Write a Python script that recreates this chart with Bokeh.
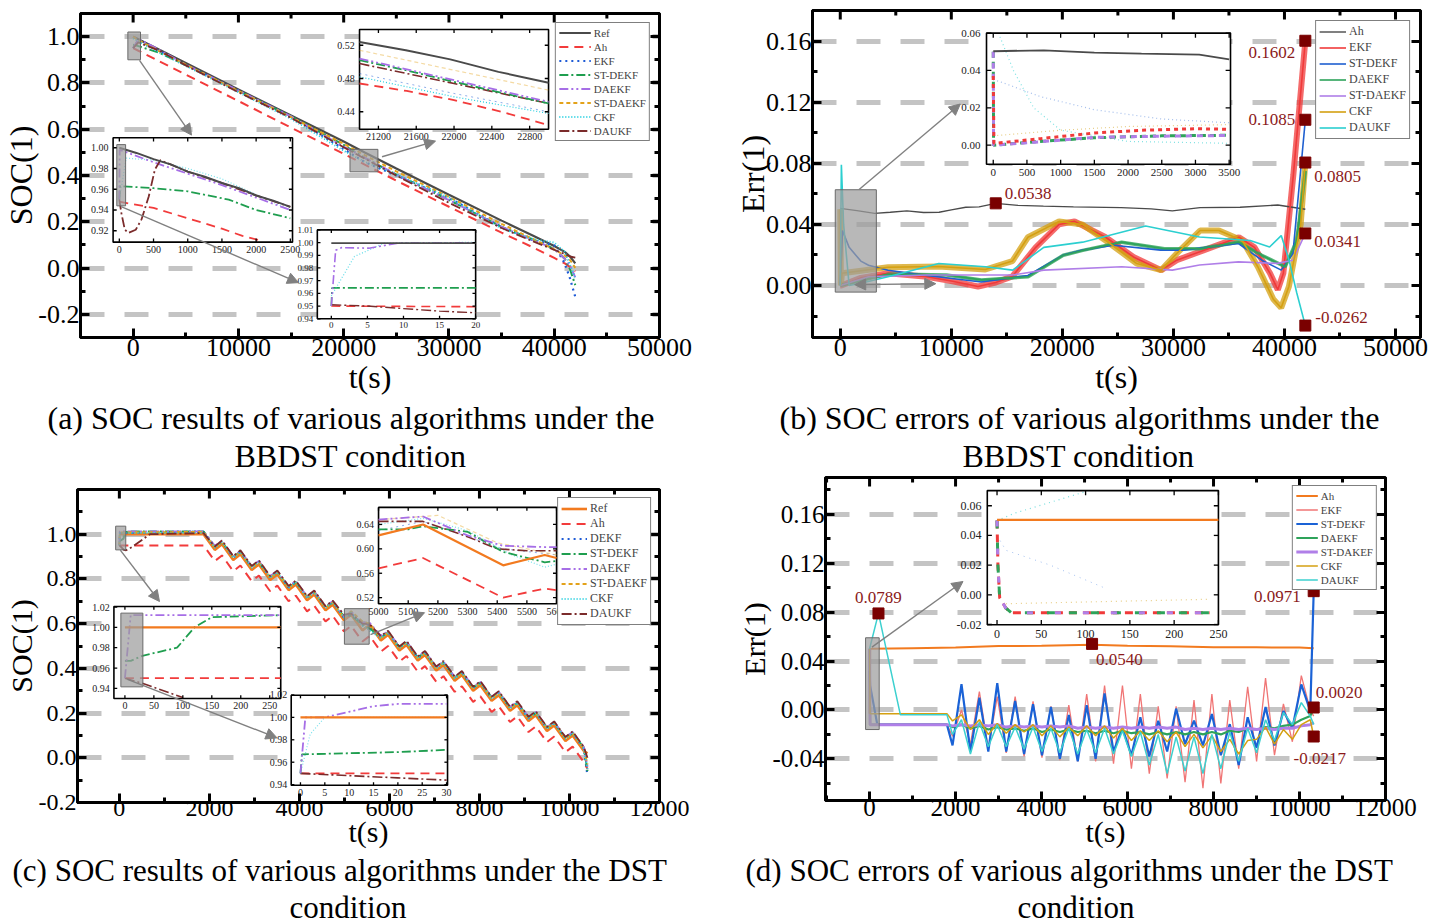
import math
from bokeh.plotting import figure
from bokeh.models import (Range1d, SingleIntervalTicker, LinearAxis, PrintfTickFormatter,
                          Arrow, NormalHead, Label, Title)
from bokeh.layouts import column, row
from bokeh.core.properties import value
from bokeh.embed import file_html
from bokeh.resources import INLINE

FONT = "Liberation Serif"

# ======================= DATA =======================
# ---- (a) SOC, BBDST ----
ta = [0, 500, 2500, 5000, 10000, 15000, 20000, 22000, 25000, 30000, 35000, 38000, 40000, 41000, 41500, 42000]
a_ref = [1.0, 0.989, 0.943, 0.886, 0.772, 0.659, 0.547, 0.499, 0.43, 0.317, 0.205, 0.14, 0.095, 0.07, 0.05, 0.02]
a_ah = [0.95, 0.939, 0.893, 0.836, 0.722, 0.607, 0.494, 0.447, 0.378, 0.265, 0.153, 0.089, 0.044, 0.02, 0.005, -0.015]
a_ekf = [0.95, 0.985, 0.936, 0.878, 0.767, 0.655, 0.514, 0.458, 0.40, 0.304, 0.177, 0.12, 0.098, 0.02, -0.045, -0.125]
a_stdekf = [0.965, 0.959, 0.930, 0.877, 0.766, 0.656, 0.532, 0.476, 0.404, 0.294, 0.178, 0.124, 0.083, 0.04, -0.005, -0.0735]
a_daekf = [0.95, 0.99, 0.942, 0.879, 0.767, 0.655, 0.525, 0.477, 0.404, 0.294, 0.178, 0.121, 0.083, 0.04, 0.01, -0.04]
a_stdaekf = [1.0, 0.985, 0.936, 0.879, 0.765, 0.652, 0.537, 0.488, 0.418, 0.307, 0.191, 0.125, 0.081, 0.054, 0.035, 0.001]
a_ckf = [0.992, 0.979, 0.931, 0.874, 0.76, 0.645, 0.507, 0.459, 0.405, 0.305, 0.171, 0.125, 0.11, 0.07, 0.015, -0.045]
a_daukf = [0.95, 0.975, 0.939, 0.876, 0.76, 0.649, 0.522, 0.473, 0.40, 0.282, 0.173, 0.115, 0.079, 0.06, 0.05, 0.045]
a_names = ["Ref", "Ah", "EKF", "ST-DEKF", "DAEKF", "ST-DAEKF", "CKF", "DAUKF"]

# inset a1 (21000-23000 s)
a1_ref_t = [21000, 21490, 21960, 22470, 23000]; a1_ref = [0.524, 0.514, 0.503, 0.488, 0.475]
a1_stdaekf_t = [21000, 23000]; a1_stdaekf = [0.514, 0.466]
a1_daekf_t = [21000, 22000, 23000]; a1_daekf = [0.504, 0.478, 0.452]
a1_stdekf_t = [21000, 21490, 22000, 23000]; a1_stdekf = [0.502, 0.49, 0.476, 0.45]
a1_daukf_t = [21000, 22000, 23000]; a1_daukf = [0.498, 0.474, 0.45]
a1_ckf_t = [21000, 22000, 23000]; a1_ckf = [0.482, 0.458, 0.438]
a1_ekf_t = [21000, 22000, 23000]; a1_ekf = [0.486, 0.462, 0.44]
a1_ah_t = [21000, 21500, 22000, 22500, 23000]; a1_ah = [0.474, 0.465, 0.454, 0.44, 0.424]
a1_xticks = [21200, 21600, 22000, 22400, 22800]; a1_xlab = ["21200", "21600", "22000", "22400", "22800"]
a1_yticks = [0.44, 0.48, 0.52]; a1_ylab = ["0.44", "0.48", "0.52"]
# inset a2 (0-2500 s)
a2_ref_t = [0, 250, 500, 750, 1000, 1250, 1500, 1750, 2000, 2250, 2500]
a2_ref = [1.0, 0.995, 0.989, 0.984, 0.977, 0.972, 0.966, 0.961, 0.954, 0.949, 0.943]
a2_daekf_t = [0, 5, 500, 1000, 1500, 2000, 2500]; a2_daekf = [0.95, 0.998, 0.986, 0.975, 0.964, 0.952, 0.94]
a2_daukf_t = [0, 30, 80, 135, 240, 325, 430, 520, 600, 1000, 1500, 2000, 2500]
a2_daukf = [0.95, 0.937, 0.921, 0.918, 0.921, 0.931, 0.953, 0.979, 0.988, 0.977, 0.966, 0.954, 0.943]
a2_stdekf_t = [0, 10, 500, 1000, 1600, 2000, 2500]; a2_stdekf = [0.95, 0.963, 0.961, 0.958, 0.95, 0.94, 0.932]
a2_ckf_t = [0, 100, 500, 1000, 1500, 2000, 2500]; a2_ckf = [0.95, 0.99, 0.988, 0.98, 0.97, 0.955, 0.94]
a2_ah_t = [0, 500, 1000, 1500, 1800, 2100]; a2_ah = [0.948, 0.942, 0.932, 0.922, 0.915, 0.91]
a2_xticks = [0, 500, 1000, 1500, 2000, 2500]; a2_xlab = ["0", "500", "1000", "1500", "2000", "2500"]
a2_yticks = [0.92, 0.94, 0.96, 0.98, 1.00]; a2_ylab = ["0.92", "0.94", "0.96", "0.98", "1.00"]
# inset a3 (0-20 s)
a3_ref_t = [0, 20]; a3_ref = [0.9996, 0.9995]
a3_daekf_t = [0, 0.6, 1.4, 5.2, 9.3, 20]; a3_daekf = [0.95, 0.994, 0.996, 0.9956, 0.9996, 0.9998]
a3_ckf_t = [0, 3.2, 7.3, 20]; a3_ckf = [0.958, 0.989, 0.9996, 1.0002]
a3_stdekf_t = [0, 0.1, 20]; a3_stdekf = [0.95, 0.9643, 0.9643]
a3_ah_t = [0, 20]; a3_ah = [0.95, 0.9495]
a3_daukf_t = [0, 5, 10, 15, 20]; a3_daukf = [0.951, 0.95, 0.948, 0.946, 0.9447]
a3_xticks = [0, 5, 10, 15, 20]; a3_xlab = ["0", "5", "10", "15", "20"]
a3_yticks = [0.94, 0.95, 0.96, 0.97, 0.98, 0.99, 1.00, 1.01]
a3_ylab = ["0.94", "0.95", "0.96", "0.97", "0.98", "0.99", "1.00", "1.01"]

# ---- (b) SOC errors, BBDST ----
b_t_ah = [0, 1500, 3100, 4500, 6000, 7500, 8900, 10000, 11300, 12500, 14000, 16000, 18300, 21000, 25300, 28000, 29900, 32400, 36000, 39400, 41880]
b_ah = [0.0505, 0.049, 0.0472, 0.048, 0.0489, 0.0478, 0.048, 0.0495, 0.0512, 0.0515, 0.0538, 0.0525, 0.052, 0.0515, 0.051, 0.0502, 0.0489, 0.051, 0.0512, 0.0527, 0.0499]
b_t_ekf = [0, 100, 1850, 4300, 7800, 10000, 12400, 14000, 15500, 17600, 19700, 21100, 23900, 26400, 28900, 30300, 32700, 35900, 37300, 38700, 39400, 39900, 40800, 41880]
b_ekf = [0.0, 0.0, 0.005, 0.008, 0.0058, 0.003, -0.0006, 0.002, 0.006, 0.025, 0.040, 0.042, 0.0316, 0.0187, 0.0101, 0.0166, 0.023, 0.0316, 0.025, 0.008, -0.0027, 0.008, 0.0724, 0.1602]
b_t_stdekf = [0, 200, 800, 1850, 2550, 4300, 7800, 12700, 16900, 20100, 21800, 24600, 28850, 30950, 35860, 37960, 39710, 40760, 41880]
b_stdekf = [0.0, 0.036, 0.025, 0.016, 0.0133, 0.010, 0.0066, 0.0023, 0.0066, 0.020, 0.0232, 0.0264, 0.0232, 0.0232, 0.0275, 0.0166, 0.0101, 0.0209, 0.1085]
b_t_daekf = [0, 4300, 9570, 12720, 16920, 20080, 21830, 25340, 29200, 32350, 35860, 37960, 40060, 41110, 41880]
b_daekf = [0.0, 0.0075, 0.0069, 0.0037, 0.0058, 0.0198, 0.023, 0.0284, 0.0241, 0.0241, 0.0284, 0.0198, 0.0123, 0.0295, 0.075]
b_t_stdaekf = [0, 2555, 7810, 15520, 18330, 25340, 29900, 32350, 35860, 39360, 40760, 41880]
b_stdaekf = [0.0, 0.0058, 0.0069, 0.0069, 0.0101, 0.0123, 0.0101, 0.0134, 0.0155, 0.0145, 0.0166, 0.0341]
b_t_ckf = [0, 60, 150, 4300, 8850, 13070, 15500, 16900, 19700, 21800, 23900, 26700, 28900, 30300, 32400, 34100, 36200, 37600, 39000, 39700, 40400, 41460, 41880]
b_ckf = [0.05, 0.0, 0.008, 0.012, 0.0125, 0.0105, 0.016, 0.0316, 0.042, 0.040, 0.0295, 0.0144, 0.0101, 0.021, 0.036, 0.036, 0.0295, 0.0123, -0.009, -0.0146, -0.0006, 0.040, 0.0805]
b_t_daukf = [0, 100, 300, 800, 1850, 4300, 8870, 13070, 15520, 18330, 21830, 27500, 32350, 36910, 38660, 39710, 40410, 41110, 41880]
b_daukf = [0.0, 0.079, 0.04, 0.0, 0.0015, 0.0058, 0.0144, 0.0123, 0.0101, 0.025, 0.0284, 0.039, 0.0318, 0.0295, 0.0252, 0.0327, 0.0166, -0.0049, -0.0262]
b_names = ["Ah", "EKF", "ST-DEKF", "DAEKF", "ST-DAEKF", "CKF", "DAUKF"]
b_mark_t = [14000, 41880, 41880, 41880, 41880, 41880]
b_mark_v = [0.0538, 0.1602, 0.1085, 0.0805, 0.0341, -0.0262]
b_mark_txt = ["0.0538", "0.1602", "0.1085", "0.0805", "0.0341", "-0.0262"]
# inset b (0-3500 s)
b1_ah_t = [0, 750, 1500, 2200, 3056, 3500]; b1_ah = [0.0503, 0.0508, 0.0495, 0.049, 0.0485, 0.0459]
b1_ekf_t = [0, 10, 30, 700, 1500, 2200, 3000, 3500]; b1_ekf = [0.037, 0.001, 0.001, 0.0035, 0.0065, 0.008, 0.0088, 0.0085]
b1_daekf_t = [0, 5, 700, 1500, 2500, 3500]; b1_daekf = [0.05, 0.0, 0.002, 0.004, 0.005, 0.0053]
b1_stdaekf_t = [0, 5, 700, 1500, 2500, 3500]; b1_stdaekf = [0.05, 0.0, 0.0018, 0.0042, 0.0048, 0.0052]
b1_stdekf_t = [0, 100, 700, 1500, 2500, 3500]; b1_stdekf = [0.035, 0.034, 0.026, 0.019, 0.014, 0.012]
b1_daukf_t = [100, 300, 600, 1000, 2000, 3500]; b1_daukf = [0.058, 0.04, 0.02, 0.008, 0.002, 0.001]
b1_ckf_t = [0, 1000, 2000, 3500]; b1_ckf = [0.005, 0.008, 0.01, 0.011]
b1_xticks = [0, 500, 1000, 1500, 2000, 2500, 3000, 3500]
b1_xlab = ["0", "500", "1000", "1500", "2000", "2500", "3000", "3500"]
b1_yticks = [0.0, 0.02, 0.04, 0.06]; b1_ylab = ["0.00", "0.02", "0.04", "0.06"]

# ---- (c) SOC, DST ----
tc_cyc = [1870, 2120, 2280, 2530, 2690, 2940, 3100, 3350, 3510, 3760, 3920, 4170, 4330, 4580, 4740, 4990,
          5150, 5400, 5560, 5810, 5970, 6220, 6380, 6630, 6790, 7040, 7200, 7450, 7610, 7860, 8020, 8270,
          8430, 8680, 8840, 9090, 9250, 9500, 9660, 9910, 10070, 10320, 10400]
c_ref_t0 = [0]; c_ref_v0 = [1.0]
c_ref = [1.0, 0.93, 0.955, 0.885, 0.91, 0.84, 0.865, 0.795, 0.82, 0.75, 0.775, 0.705, 0.73, 0.66, 0.685, 0.615,
         0.64, 0.57, 0.595, 0.525, 0.55, 0.48, 0.505, 0.435, 0.46, 0.39, 0.415, 0.345, 0.37, 0.30, 0.325, 0.255,
         0.28, 0.21, 0.235, 0.165, 0.19, 0.12, 0.145, 0.075, 0.10, 0.03, 0.02]
c_ah_t0 = [0]; c_ah_v0 = [0.95]
c_ah = [0.95, 0.88, 0.905, 0.835, 0.86, 0.79, 0.815, 0.745, 0.77, 0.70, 0.725, 0.655, 0.68, 0.61, 0.635, 0.565,
        0.59, 0.52, 0.545, 0.475, 0.50, 0.43, 0.455, 0.385, 0.41, 0.34, 0.365, 0.295, 0.32, 0.25, 0.275, 0.205,
        0.23, 0.16, 0.185, 0.115, 0.14, 0.07, 0.095, 0.025, 0.05, -0.02, -0.05]
c_dekf_t0 = [0, 10]; c_dekf_v0 = [0.95, 1.005]
c_dekf = [1.012, 0.942, 0.967, 0.897, 0.922, 0.852, 0.877, 0.807, 0.832, 0.762, 0.787, 0.717, 0.742, 0.672, 0.697, 0.627,
          0.645, 0.60, 0.595, 0.537, 0.562, 0.492, 0.517, 0.447, 0.472, 0.402, 0.427, 0.357, 0.382, 0.312, 0.337, 0.267,
          0.292, 0.222, 0.247, 0.177, 0.202, 0.132, 0.157, 0.087, 0.112, 0.042, -0.08]
c_stdekf_t0 = [0, 30, 90, 120, 150, 250]; c_stdekf_v0 = [0.967, 0.972, 0.98, 1.0, 1.01, 1.012]
c_stdekf = [1.012, 0.945, 0.965, 0.900, 0.92, 0.855, 0.875, 0.81, 0.83, 0.765, 0.785, 0.72, 0.74, 0.675, 0.695, 0.632,
            0.637, 0.595, 0.578, 0.54, 0.56, 0.495, 0.515, 0.45, 0.47, 0.405, 0.425, 0.36, 0.38, 0.315, 0.335, 0.27,
            0.29, 0.225, 0.245, 0.18, 0.2, 0.135, 0.155, 0.09, 0.11, 0.045, -0.06]
c_daekf_t0 = [0, 10]; c_daekf_v0 = [0.95, 1.012]
c_daekf = [1.012, 0.948, 0.97, 0.90, 0.925, 0.857, 0.88, 0.812, 0.835, 0.767, 0.79, 0.722, 0.745, 0.677, 0.70, 0.632,
           0.653, 0.605, 0.603, 0.545, 0.565, 0.497, 0.52, 0.452, 0.475, 0.407, 0.43, 0.362, 0.385, 0.317, 0.34, 0.272,
           0.295, 0.227, 0.25, 0.182, 0.205, 0.137, 0.16, 0.092, 0.115, 0.047, -0.04]
c_stdaekf_t0 = [0, 10]; c_stdaekf_v0 = [0.95, 1.008]
c_stdaekf = [1.01, 0.94, 0.965, 0.895, 0.92, 0.85, 0.875, 0.805, 0.83, 0.76, 0.785, 0.715, 0.74, 0.67, 0.695, 0.625,
             0.655, 0.61, 0.60, 0.535, 0.56, 0.49, 0.515, 0.445, 0.47, 0.40, 0.425, 0.355, 0.38, 0.31, 0.335, 0.265,
             0.29, 0.22, 0.245, 0.175, 0.20, 0.13, 0.155, 0.085, 0.11, 0.04, -0.03]
c_ckf_t0 = [0, 10]; c_ckf_v0 = [0.95, 1.005]
c_ckf = [1.005, 0.94, 0.965, 0.895, 0.92, 0.85, 0.875, 0.805, 0.83, 0.76, 0.785, 0.715, 0.74, 0.67, 0.695, 0.627,
         0.65, 0.59, 0.57, 0.535, 0.56, 0.49, 0.515, 0.445, 0.47, 0.40, 0.425, 0.355, 0.38, 0.31, 0.335, 0.265,
         0.29, 0.22, 0.245, 0.175, 0.20, 0.13, 0.155, 0.085, 0.11, 0.04, -0.05]
c_daukf_t0 = [0, 30, 100, 150, 300, 680]; c_daukf_v0 = [0.95, 0.945, 0.93, 0.928, 0.945, 1.0]
c_daukf = [1.005, 0.945, 0.972, 0.902, 0.928, 0.858, 0.883, 0.813, 0.838, 0.768, 0.793, 0.723, 0.748, 0.678, 0.703, 0.64,
           0.645, 0.60, 0.597, 0.545, 0.568, 0.498, 0.523, 0.453, 0.478, 0.408, 0.433, 0.363, 0.388, 0.318, 0.343, 0.273,
           0.298, 0.228, 0.253, 0.183, 0.208, 0.138, 0.163, 0.093, 0.118, 0.048, 0.0]
c_names = ["Ref", "Ah", "DEKF", "ST-DEKF", "DAEKF", "ST-DAEKF", "CKF", "DAUKF"]
# inset c1 (5000-5600 s)
c1_ref_t = [5000, 5150, 5420, 5560, 5600]; c1_ref = [0.622, 0.64, 0.573, 0.59, 0.585]
c1_ah_t = [5000, 5150, 5420, 5560, 5600]; c1_ah = [0.568, 0.585, 0.52, 0.535, 0.532]
c1_dekf_t = [5000, 5150, 5420, 5600]; c1_dekf = [0.63, 0.645, 0.6, 0.59]
c1_stdekf_t = [5000, 5100, 5150, 5300, 5420, 5560, 5600]; c1_stdekf = [0.632, 0.632, 0.637, 0.628, 0.595, 0.578, 0.58]
c1_daekf_t = [5000, 5150, 5300, 5420, 5560, 5600]; c1_daekf = [0.648, 0.653, 0.622, 0.605, 0.603, 0.603]
c1_stdaekf_t = [5000, 5200, 5400, 5600]; c1_stdaekf = [0.648, 0.655, 0.61, 0.59]
c1_ckf_t = [5000, 5150, 5300, 5450, 5560, 5600]; c1_ckf = [0.64, 0.65, 0.63, 0.59, 0.57, 0.575]
c1_daukf_t = [5000, 5150, 5300, 5400, 5500, 5600]; c1_daukf = [0.645, 0.645, 0.62, 0.6, 0.597, 0.597]
c1_xticks = [5000, 5100, 5200, 5300, 5400, 5500, 5600]
c1_xlab = ["5000", "5100", "5200", "5300", "5400", "5500", "5600"]
c1_yticks = [0.52, 0.56, 0.60, 0.64]; c1_ylab = ["0.52", "0.56", "0.60", "0.64"]
# inset c2 (0-250 s)
c2_ref_t = [0, 269]; c2_ref = [1.0, 1.0]
c2_daekf_t = [0, 10, 269]; c2_daekf = [0.95, 1.012, 1.012]
c2_stdekf_t = [0, 10, 30, 90, 120, 150, 269]; c2_stdekf = [0.967, 0.967, 0.972, 0.98, 1.0, 1.01, 1.012]
c2_ah_t = [0, 269]; c2_ah = [0.95, 0.95]
c2_daukf_t = [0, 30, 100]; c2_daukf = [0.95, 0.945, 0.931]
c2_xticks = [0, 50, 100, 150, 200, 250]; c2_xlab = ["0", "50", "100", "150", "200", "250"]
c2_yticks = [0.94, 0.96, 0.98, 1.00, 1.02]; c2_ylab = ["0.94", "0.96", "0.98", "1.00", "1.02"]
# inset c3 (0-30 s)
c3_ref_t = [0, 30]; c3_ref = [1.0, 1.0]
c3_daekf_t = [0, 1, 5, 10, 15, 20, 30]; c3_daekf = [0.95, 1.0, 1.0, 1.005, 1.01, 1.012, 1.012]
c3_stdekf_t = [0, 0.3, 10, 20, 30]; c3_stdekf = [0.95, 0.967, 0.968, 0.969, 0.971]
c3_ah_t = [0, 30]; c3_ah = [0.95, 0.95]
c3_daukf_t = [0, 10, 20, 30]; c3_daukf = [0.95, 0.948, 0.946, 0.944]
c3_ckf_t = [0, 2, 5, 30]; c3_ckf = [0.95, 0.985, 1.0, 1.0]
c3_xticks = [0, 5, 10, 15, 20, 25, 30]; c3_xlab = ["0", "5", "10", "15", "20", "25", "30"]
c3_yticks = [0.94, 0.96, 0.98, 1.00, 1.02]; c3_ylab = ["0.94", "0.96", "0.98", "1.00", "1.02"]

# ---- (d) SOC errors, DST ----
td_osc = [1930, 2138, 2346, 2554, 2762, 2970, 3178, 3386, 3594, 3802, 4010, 4218, 4426, 4634, 4842, 5050,
          5258, 5466, 5674, 5882, 6090, 6298, 6506, 6714, 6922, 7130, 7338, 7546, 7754, 7962, 8170, 8378,
          8586, 8794, 9002, 9210, 9418, 9626, 9834, 10042]
td_start = [0, 12, 180, 1800]
td_end = [10250, 10330]
d_t_ah = [0, 15, 1000, 2000, 3000, 4000, 5175, 6000, 7000, 8000, 9000, 10000, 10330]
d_ah = [-0.003, 0.050, 0.0505, 0.051, 0.0522, 0.0525, 0.0534, 0.0525, 0.052, 0.0512, 0.0512, 0.051, 0.0505]
d_ekf_s = [0.05, -0.012, -0.012, -0.012]
d_ekf = [-0.0215, 0.000, -0.028, 0.015, -0.032, 0.011, -0.035, 0.011, -0.038, 0.007, -0.039, 0.003, -0.041, 0.004,
         -0.042, 0.013, -0.042, 0.020, -0.044, 0.020, -0.048, 0.013, -0.052, 0.003, -0.056, 0.003, -0.059, 0.008,
         -0.064, 0.013, -0.060, 0.008, -0.048, 0.019, -0.042, 0.026, -0.037, 0.005, -0.026, 0.028]
d_ekf_e = [0.0, -0.005]
d_stdekf_s = [0.032, 0.02, -0.012, -0.012]
d_stdekf = [-0.029, 0.021, -0.034, 0.010, -0.034, 0.022, -0.034, 0.0074, -0.036, 0.0047, -0.037, 0.0025, -0.040, -0.004,
            -0.042, 0.0039, -0.040, 0.0135, -0.034, -0.0147, -0.037, -0.006, -0.038, -0.0088, -0.034, 0.0011, -0.028,
            -0.0088, -0.029, -0.0033, -0.037, -0.0116, -0.045, -0.006, -0.031, 0.0025, -0.029, -0.0008, -0.015, 0.0209]
d_stdekf_e = [-0.001, 0.0971]
d_daekf_s = [0.05, -0.012, -0.012, -0.012]
d_daekf = [-0.014, -0.012, -0.015, -0.013, -0.016, -0.014, -0.016, -0.015, -0.017, -0.015, -0.018, -0.016, -0.018,
           -0.016, -0.018, -0.017, -0.019, -0.017, -0.019, -0.017, -0.019, -0.018, -0.020, -0.018, -0.020, -0.018,
           -0.020, -0.018, -0.020, -0.018, -0.020, -0.017, -0.018, -0.015, -0.016, -0.014, -0.015, -0.013, -0.012, -0.008]
d_daekf_e = [-0.005, 0.002]
d_stdakef_s = [0.05, -0.012, -0.012, -0.012]
d_stdakef = [-0.013, -0.012, -0.013, -0.012, -0.013, -0.012, -0.014, -0.013, -0.014, -0.013, -0.014, -0.013, -0.014,
             -0.013, -0.015, -0.014, -0.015, -0.014, -0.015, -0.014, -0.015, -0.014, -0.015, -0.014, -0.015, -0.014,
             -0.016, -0.015, -0.016, -0.015, -0.016, -0.015, -0.016, -0.015, -0.016, -0.015, -0.016, -0.015, -0.015, -0.013]
d_stdakef_e = [-0.012, -0.010]
d_ckf_s = [0.05, -0.003, -0.003, -0.003]
d_ckf = [-0.009, -0.004, -0.016, -0.008, -0.020, -0.011, -0.019, -0.012, -0.018, -0.012, -0.021, -0.013, -0.022, -0.014,
         -0.021, -0.013, -0.021, -0.013, -0.023, -0.015, -0.025, -0.017, -0.025, -0.017, -0.026, -0.018, -0.030, -0.020,
         -0.031, -0.021, -0.034, -0.024, -0.036, -0.025, -0.024, -0.014, -0.028, -0.016, -0.024, -0.012]
d_ckf_e = [-0.008, -0.0217]
d_daukf_start_t = [0, 207, 717, 1800]
d_daukf_s = [0.05, 0.0789, -0.004, -0.004]
d_daukf = [-0.020, -0.008, -0.036, -0.010, -0.030, -0.012, -0.030, -0.014, -0.032, -0.014, -0.034, -0.015, -0.035,
           -0.015, -0.036, -0.016, -0.035, -0.015, -0.036, -0.017, -0.038, -0.018, -0.045, -0.020, -0.052, -0.022,
           -0.050, -0.022, -0.052, -0.020, -0.048, -0.018, -0.042, -0.015, -0.035, -0.008, -0.025, -0.002, -0.012, 0.006]
d_daukf_e = [-0.005, -0.012]
d_names = ["Ah", "EKF", "ST-DEKF", "DAEKF", "ST-DAKEF", "CKF", "DAUKF"]
d_mark_t = [207, 5175, 10330, 10330, 10330]
d_mark_v = [0.0789, 0.0540, 0.0971, 0.0020, -0.0217]
d_mark_txt = ["0.0789", "0.0540", "0.0971", "0.0020", "-0.0217"]
# inset d (0-250 s)
d1_ah_t = [0, 250]; d1_ah = [0.0505, 0.0505]
d1_drop_t = [0, 1, 3, 10, 16, 240]; d1_drop = [0.05, 0.02, -0.002, -0.009, -0.012, -0.012]
d1_daukf_t = [0, 20, 100]; d1_daukf = [0.05, 0.055, 0.0695]
d1_stdekf_t = [0, 10, 60, 120]; d1_stdekf = [0.04, 0.03, 0.02, 0.005]
d1_ckf_t = [10, 240]; d1_ckf = [-0.006, -0.003]
d1_xticks = [0, 50, 100, 150, 200, 250]; d1_xlab = ["0", "50", "100", "150", "200", "250"]
d1_yticks = [-0.02, 0.0, 0.02, 0.04, 0.06]; d1_ylab = ["-0.02", "0.00", "0.02", "0.04", "0.06"]

captions = [("(a) SOC results of various algorithms under the", "BBDST condition"),
            ("(b) SOC errors of various algorithms under the", "BBDST condition"),
            ("(c) SOC results of various algorithms under the DST", "condition"),
            ("(d) SOC errors of various algorithms under the DST", "condition")]

# ======================= STYLES / LAYOUT =======================
GREY_BOX = dict(fill_color="#9c9c9c", fill_alpha=0.72, line_color="#6a6a6a", line_width=1)
ARROW_COL = "#808080"


def L(target, x, y, **kw):
    n = min(len(x), len(y))
    return target.line(list(x[:n]), list(y[:n]), **kw)


def style_axis(ax, fs_tick, fs_label, labels=True, lab_sd=1, ax_sd=0):
    ax.axis_line_color = "black"
    ax.axis_line_width = 3
    ax.major_tick_line_color = "black"
    ax.major_tick_line_width = 3
    ax.minor_tick_line_color = "black"
    ax.minor_tick_line_width = 3
    ax.major_tick_in = 9
    ax.major_tick_out = 0
    ax.minor_tick_in = 5
    ax.minor_tick_out = 0
    ax.major_label_text_font = FONT
    ax.major_label_text_font_size = fs_tick
    ax.major_label_text_color = "black"
    ax.major_label_standoff = lab_sd
    ax.axis_label_text_font = FONT
    ax.axis_label_text_font_size = fs_label
    ax.axis_label_text_font_style = "normal"
    ax.axis_label_text_color = "black"
    ax.axis_label_standoff = ax_sd
    if not labels:
        ax.major_label_text_font_size = "0px"
        ax.major_label_text_alpha = 0
        ax.major_label_standoff = 0


def top_ticks(p, xr, yr, xint, frame_h):
    # inward ticks along the top edge of the frame (major + one minor between)
    half = xint / 2.0
    span = yr[1] - yr[0]
    k = int(math.ceil(xr[0] / half))
    xs, y1 = [], []
    while k * half <= xr[1]:
        xs.append(k * half)
        y1.append(yr[1] - (9 if k % 2 == 0 else 5) * span / frame_h)
        k += 1
    p.segment(x0=xs, y0=[yr[1]] * len(xs), x1=xs, y1=y1, line_color="black", line_width=3)


def make_panel(w, h, xr, yr, borders, xint, yint, yfmt, ylabel, fs_tick, fs_label, cap, cap_off, cap_fs,
               frame_h, x_sd=(1, 0), y_sd=(1, -4)):
    p = figure(width=w, height=h, x_range=Range1d(*xr), y_range=Range1d(*yr),
               output_backend="svg", toolbar_location=None, title=None,
               min_border_left=borders[0], min_border_right=borders[1],
               min_border_top=borders[2], min_border_bottom=borders[3])
    xt = SingleIntervalTicker(interval=xint, num_minor_ticks=2)
    yt = SingleIntervalTicker(interval=yint, num_minor_ticks=2)
    p.xaxis[0].ticker = xt
    p.yaxis[0].ticker = yt
    p.xaxis[0].formatter = PrintfTickFormatter(format="%d")
    p.yaxis[0].formatter = PrintfTickFormatter(format=yfmt)
    p.xaxis[0].axis_label = "t(s)"
    p.yaxis[0].axis_label = ylabel
    style_axis(p.xaxis[0], fs_tick, fs_label, lab_sd=x_sd[0], ax_sd=x_sd[1])
    style_axis(p.yaxis[0], fs_tick, fs_label, lab_sd=y_sd[0], ax_sd=y_sd[1])
    right = LinearAxis(ticker=yt)
    style_axis(right, fs_tick, fs_label, labels=False)
    p.add_layout(right, "right")
    p.xgrid.visible = False
    p.ygrid.ticker = yt
    p.ygrid.grid_line_color = "#c4c4c4"
    p.ygrid.grid_line_width = 5
    p.ygrid.grid_line_dash = "24 20"
    p.outline_line_color = "black"
    p.outline_line_width = 3
    p.background_fill_color = "white"
    p.border_fill_color = "white"
    top_ticks(p, xr, yr, xint, frame_h)
    for txt, off in zip(cap, cap_off):
        t = Title(text=txt, align="left", offset=off, text_font=FONT, text_font_size=cap_fs,
                  text_font_style="normal", text_color="black", standoff=0)
        p.add_layout(t, "below")
    return p


def style_legend(p, fs, gw, lh, spacing, margin):
    lg = p.legend[0]
    lg.location = "top_right"
    lg.label_text_font = FONT
    lg.label_text_font_size = fs
    lg.glyph_width = gw
    lg.glyph_height = lh
    lg.label_height = lh
    lg.spacing = spacing
    lg.padding = 3
    lg.margin = margin
    lg.label_standoff = 3
    lg.border_line_color = "black"
    lg.border_line_width = 1.5
    lg.background_fill_color = "white"
    lg.background_fill_alpha = 1.0


def inset(p, xr, yr, xt, yt, xticks, xlab, yticks, ylab, fs, lines, box=None):
    p.quad(left=[xt[0]], right=[xt[1]], bottom=[yt[0]], top=[yt[1]],
           fill_color="white", line_color="black", line_width=1.6)
    s = p.subplot(x_source=Range1d(*xr), y_source=Range1d(*yr),
                  x_target=Range1d(*xt), y_target=Range1d(*yt))
    for x, y, kw in lines:
        L(s, x, y, **kw)
    if box is not None:
        s.quad(left=[box[0]], right=[box[1]], bottom=[box[2]], top=[box[3]], **GREY_BOX)
    dx = xr[1] - xr[0]
    dy = yr[1] - yr[0]
    nx, ny = len(xticks), len(yticks)
    tk = dict(line_color="black", line_width=1.3)
    s.segment(x0=xticks, y0=[yr[0]] * nx, x1=xticks, y1=[yr[0] + 0.035 * dy] * nx, **tk)
    s.segment(x0=xticks, y0=[yr[1]] * nx, x1=xticks, y1=[yr[1] - 0.035 * dy] * nx, **tk)
    s.segment(x0=[xr[0]] * ny, y0=yticks, x1=[xr[0] + 0.02 * dx] * ny, y1=yticks, **tk)
    s.segment(x0=[xr[1]] * ny, y0=yticks, x1=[xr[1] - 0.02 * dx] * ny, y1=yticks, **tk)
    s.text(x=xticks, y=[yr[0] - 0.04 * dy] * nx, text=xlab, text_align="center", text_baseline="top",
           text_font=value(FONT), text_font_size=fs, text_color="#222222")
    s.text(x=[xr[0] - 0.025 * dx] * ny, y=yticks, text=ylab, text_align="right", text_baseline="middle",
           text_font=value(FONT), text_font_size=fs, text_color="#222222")
    return s


def arrows(p, specs, both=False):
    for x0, y0, x1, y1 in specs:
        head = NormalHead(size=11, fill_color=ARROW_COL, line_color=ARROW_COL)
        kw = dict(end=head, x_start=x0, y_start=y0, x_end=x1, y_end=y1,
                  line_color=ARROW_COL, line_width=1.4)
        if both:
            kw["start"] = NormalHead(size=11, fill_color=ARROW_COL, line_color=ARROW_COL)
        p.add_layout(Arrow(**kw))


def markers(p, ts, vs, txts, offs, fs):
    p.scatter(ts, vs, marker="square", size=11, fill_color="#7a0000", line_color="#7a0000")
    for t, v, s, (ox, oy, al) in zip(ts, vs, txts, offs):
        p.add_layout(Label(x=t, y=v, text=s, x_offset=ox, y_offset=oy, text_align=al,
                           text_baseline="middle", text_font=FONT, text_font_size=fs,
                           text_color="#8b1a1a"))


TOP_H, BOT_H = 473, 451

# colours
C_REF = "#4a4a4a"; C_AH = "#f23b3b"; C_BLUE = "#1f5bd6"; C_GREEN = "#1f9e4f"; C_PURP = "#a66ee6"
C_GOLD = "#e3a21a"; C_CYAN = "#22cfe0"; C_BROWN = "#7b2b2b"; C_ORANGE = "#f27a1f"
B_EKF = "#f03a3a"; B_BLUE = "#1f5fd0"; B_GREEN = "#2ea35a"; B_PURP = "#b07fe8"; B_GOLD = "#d4a012"; B_CYAN = "#2ccfd0"

SOC_STY = [dict(line_width=2.2),
           dict(line_color=C_AH, line_width=2.0, line_dash="9 6"),
           dict(line_color=C_BLUE, line_width=2.2, line_dash="2 4"),
           dict(line_color=C_GREEN, line_width=2.0, line_dash="9 3 2 3"),
           dict(line_color=C_PURP, line_width=2.0, line_dash="9 3 2 3 2 3"),
           dict(line_color=C_GOLD, line_width=2.0, line_dash="4 3"),
           dict(line_color=C_CYAN, line_width=2.0, line_dash="1 2"),
           dict(line_color=C_BROWN, line_width=1.8, line_dash="10 3 2 3")]

# ======================= PANEL A =======================
pa = make_panel(730, TOP_H, (-5000, 50000), (-0.3, 1.1), (80, 71, 13, 10), 10000, 0.2, "%.1f", "SOC(1)",
                "26px", "32px", captions[0], (-33, 154), "32px", frame_h=325)
a_series = [a_ref, a_ah, a_ekf, a_stdekf, a_daekf, a_stdaekf, a_ckf, a_daukf]
for i, (nm, ys) in enumerate(zip(a_names, a_series)):
    kw = dict(SOC_STY[i])
    if i == 0:
        kw["line_color"] = C_REF
    L(pa, ta, ys, legend_label=nm, **kw)
pa.quad(left=[-500], right=[700], bottom=[0.90], top=[1.02], **GREY_BOX)
pa.quad(left=[20600], right=[23250], bottom=[0.416], top=[0.513], **GREY_BOX)
thin = lambda d, w=1.3: {**d, "line_width": w}
inset(pa, (21000, 23000), (0.419, 0.539), (21505, 39460), (0.600, 1.031), a1_xticks, a1_xlab, a1_yticks, a1_ylab, "10px",
      [(a1_ah_t, a1_ah, thin(SOC_STY[1], 1.8)), (a1_ckf_t, a1_ckf, thin(SOC_STY[6], 1.2)),
       (a1_ekf_t, a1_ekf, {**thin(SOC_STY[2], 1.0), "line_alpha": 0.5}),
       (a1_daukf_t, a1_daukf, thin(SOC_STY[7], 1.6)), (a1_stdekf_t, a1_stdekf, thin(SOC_STY[3], 1.8)),
       (a1_daekf_t, a1_daekf, thin(SOC_STY[4], 1.8)), (a1_stdaekf_t, a1_stdaekf, {**thin(SOC_STY[5], 1.2), "line_alpha": 0.4}),
       (a1_ref_t, a1_ref, dict(line_color=C_REF, line_width=2.0))])
inset(pa, (-91, 2532), (0.909, 1.0096), (-1903, 15140), (0.112, 0.563), a2_xticks, a2_xlab, a2_yticks, a2_ylab, "10px",
      [(a2_ah_t, a2_ah, thin(SOC_STY[1], 1.8)), (a2_ckf_t, a2_ckf, {**thin(SOC_STY[6], 1.2), "line_alpha": 0.6}),
       (a2_stdekf_t, a2_stdekf, thin(SOC_STY[3], 1.8)), (a2_daekf_t, a2_daekf, thin(SOC_STY[4], 1.8)),
       (a2_daukf_t, a2_daukf, thin(SOC_STY[7], 1.8)), (a2_ref_t, a2_ref, dict(line_color=C_REF, line_width=2.0))],
      box=(-37, 92, 0.944, 1.003))
inset(pa, (-1.94, 20), (0.94, 1.01), (17496, 32535), (-0.219, 0.165), a3_xticks, a3_xlab, a3_yticks, a3_ylab, "9px",
      [(a3_ah_t, a3_ah, thin(SOC_STY[1], 1.6)), (a3_daukf_t, a3_daukf, thin(SOC_STY[7], 1.4)),
       (a3_stdekf_t, a3_stdekf, thin(SOC_STY[3], 1.6)), (a3_ckf_t, a3_ckf, {**thin(SOC_STY[6], 1.2), "line_alpha": 0.7}),
       (a3_daekf_t, a3_daekf, thin(SOC_STY[4], 1.6)), (a3_ref_t, a3_ref, dict(line_color=C_REF, line_width=1.8))])
arrows(pa, [(605, 0.8975, 5545, 0.5745), (-1133, 0.2656, 15710, -0.063), (23643, 0.481, 28725, 0.5486)])
style_legend(pa, "11px", 32, 13, 1, 9)

# ======================= PANEL B =======================
pb = make_panel(699, TOP_H, (-2500, 52250), (-0.034, 0.18), (82, 9, 10, 10), 10000, 0.04, "%.2f", "Err(1)",
                "26px", "32px", captions[1], (-33, 150), "32px", frame_h=331, y_sd=(1, -8))
L(pb, b_t_ekf, b_ekf, line_color=B_EKF, line_width=6, line_alpha=0.75)
L(pb, b_t_ckf, b_ckf, line_color=B_GOLD, line_width=6, line_alpha=0.75)
L(pb, b_t_daekf, b_daekf, line_color=B_GREEN, line_width=3.5, line_alpha=0.8)
b_plot = [(b_t_ah, b_ah, C_REF, 1.4), (b_t_ekf, b_ekf, B_EKF, 1.6), (b_t_stdekf, b_stdekf, B_BLUE, 1.6),
          (b_t_daekf, b_daekf, B_GREEN, 1.6), (b_t_stdaekf, b_stdaekf, B_PURP, 1.6),
          (b_t_ckf, b_ckf, B_GOLD, 1.6), (b_t_daukf, b_daukf, B_CYAN, 1.6)]
for nm, (x, y, c, w) in zip(b_names, b_plot):
    L(pb, x, y, line_color=c, line_width=w, legend_label=nm)
pb.quad(left=[-450], right=[3250], bottom=[-0.0043], top=[0.0627], **GREY_BOX)
markers(pb, b_mark_t, b_mark_v, b_mark_txt,
        [(9, 10, "left"), (-10, -12, "right"), (-10, 0, "right"), (9, -14, "left"), (9, -8, "left"), (10, 8, "left")],
        "17px")
inset(pb, (-100, 3520), (-0.0102, 0.06), (13169, 35141), (0.0794, 0.1652), b1_xticks, b1_xlab, b1_yticks, b1_ylab, "11px",
      [(b1_ckf_t, b1_ckf, dict(line_color=B_GOLD, line_width=1.2, line_dash="1 3", line_alpha=0.5)),
       (b1_daukf_t, b1_daukf, dict(line_color=B_CYAN, line_width=1.2, line_dash="1 3", line_alpha=0.6)),
       (b1_stdekf_t, b1_stdekf, dict(line_color=B_BLUE, line_width=1.2, line_dash="1 3", line_alpha=0.4)),
       (b1_daekf_t, b1_daekf, dict(line_color=B_GREEN, line_width=3, line_dash="6 4")),
       (b1_stdaekf_t, b1_stdaekf, dict(line_color=B_PURP, line_width=3, line_dash="6 5")),
       (b1_ekf_t, b1_ekf, dict(line_color=B_EKF, line_width=3, line_dash="4 4")),
       (b1_ah_t, b1_ah, dict(line_color=C_REF, line_width=1.8))])
arrows(pb, [(1696, 0.0629, 10809, 0.1188)])
arrows(pb, [(1300, 0.0006, 8600, 0.0012)], both=True)
style_legend(pb, "12px", 27, 13, 1, 10)

# ======================= PANEL C =======================
pc = make_panel(730, BOT_H, (-930, 12000), (-0.2, 1.2), (77, 71, 16, 10), 2000, 0.2, "%.1f", "SOC(1)",
                "24px", "30px", captions[2], (-65, 212), "31px", frame_h=311, x_sd=(-2, -4), y_sd=(1, -2))
c_series = [(c_ref_t0, c_ref_v0, c_ref), (c_ah_t0, c_ah_v0, c_ah), (c_dekf_t0, c_dekf_v0, c_dekf),
            (c_stdekf_t0, c_stdekf_v0, c_stdekf), (c_daekf_t0, c_daekf_v0, c_daekf),
            (c_stdaekf_t0, c_stdaekf_v0, c_stdaekf), (c_ckf_t0, c_ckf_v0, c_ckf), (c_daukf_t0, c_daukf_v0, c_daukf)]
for i, (nm, (t0, v0, vc)) in enumerate(zip(c_names, c_series)):
    kw = dict(SOC_STY[i])
    if i == 0:
        kw["line_color"] = C_ORANGE
        kw["line_width"] = 2.6
    L(pc, t0 + tc_cyc, v0 + vc, legend_label=nm, **kw)
pc.quad(left=[-82], right=[142], bottom=[0.93], top=[1.036], **GREY_BOX)
pc.quad(left=[5000], right=[5550], bottom=[0.508], top=[0.667], **GREY_BOX)
inset(pc, (5000, 5600), (0.51, 0.668), (5758, 9713), (0.689, 1.12), c1_xticks, c1_xlab, c1_yticks, c1_ylab, "10px",
      [(c1_ah_t, c1_ah, thin(SOC_STY[1], 1.8)), (c1_dekf_t, c1_dekf, {**thin(SOC_STY[2], 1.0), "line_alpha": 0.5}),
       (c1_ckf_t, c1_ckf, {**thin(SOC_STY[6], 1.2), "line_alpha": 0.6}),
       (c1_stdaekf_t, c1_stdaekf, {**thin(SOC_STY[5], 1.2), "line_alpha": 0.4}),
       (c1_daukf_t, c1_daukf, thin(SOC_STY[7], 1.6)), (c1_stdekf_t, c1_stdekf, thin(SOC_STY[3], 1.8)),
       (c1_daekf_t, c1_daekf, thin(SOC_STY[4], 1.8)), (c1_ref_t, c1_ref, dict(line_color=C_ORANGE, line_width=2.2))])
inset(pc, (-19, 269), (0.93, 1.0206), (-121, 3585), (0.265, 0.677), c2_xticks, c2_xlab, c2_yticks, c2_ylab, "10px",
      [(c2_ah_t, c2_ah, thin(SOC_STY[1], 1.8)), (c2_daukf_t, c2_daukf, thin(SOC_STY[7], 1.6)),
       (c2_stdekf_t, c2_stdekf, thin(SOC_STY[3], 1.8)), (c2_daekf_t, c2_daekf, thin(SOC_STY[4], 1.8)),
       (c2_ref_t, c2_ref, dict(line_color=C_ORANGE, line_width=2.2))],
      box=(-7, 31, 0.9415, 1.014))
inset(pc, (-1.9, 30.2), (0.9394, 1.0198), (3818, 7291), (-0.123, 0.28), c3_xticks, c3_xlab, c3_yticks, c3_ylab, "10px",
      [(c3_ah_t, c3_ah, thin(SOC_STY[1], 1.8)), (c3_daukf_t, c3_daukf, thin(SOC_STY[7], 1.6)),
       (c3_ckf_t, c3_ckf, {**thin(SOC_STY[6], 1.2), "line_alpha": 0.6}),
       (c3_stdekf_t, c3_stdekf, thin(SOC_STY[3], 1.8)), (c3_daekf_t, c3_daekf, thin(SOC_STY[4], 1.8)),
       (c3_ref_t, c3_ref, dict(line_color=C_ORANGE, line_width=2.2))])
arrows(pc, [(21, 0.929, 892, 0.699), (181, 0.351, 3503, 0.089), (5580, 0.551, 6780, 0.649)])
style_legend(pc, "12px", 26, 15, 0, 8)

# ======================= PANEL D =======================
pd_ = make_panel(699, BOT_H, (-1025, 12000), (-0.074, 0.19), (95, 44, 4, 10), 2000, 0.04, "%.2f", "Err(1)",
                 "25px", "30px", captions[3], (-80, 192), "31px", frame_h=322, x_sd=(-2, -4), y_sd=(1, -2))
d_plot = [(d_t_ah, d_ah, C_ORANGE, 2.0),
          (td_start + td_osc + td_end, d_ekf_s + d_ekf + d_ekf_e, "#f07575", 1.3),
          (td_start + td_osc + td_end, d_stdekf_s + d_stdekf + d_stdekf_e, "#1a62d6", 2.2),
          (td_start + td_osc + td_end, d_daekf_s + d_daekf + d_daekf_e, B_GREEN, 2.2),
          (td_start + td_osc + td_end, d_stdakef_s + d_stdakef + d_stdakef_e, B_PURP, 3.0),
          (td_start + td_osc + td_end, d_ckf_s + d_ckf + d_ckf_e, B_GOLD, 1.5),
          (d_daukf_start_t + td_osc + td_end, d_daukf_s + d_daukf + d_daukf_e, "#3cd0cf", 1.5)]
for nm, (x, y, c, w) in zip(d_names, d_plot):
    L(pd_, x, y, line_color=c, line_width=w, legend_label=nm)
pd_.quad(left=[-93], right=[224], bottom=[-0.016], top=[0.059], **GREY_BOX)
markers(pd_, d_mark_t, d_mark_v, d_mark_txt,
        [(0, 16, "center"), (4, -16, "left"), (-13, -5, "right"), (2, 15, "left"), (6, -22, "center")], "17px")
inset(pd_, (-11, 250), (-0.0202, 0.0702), (2738, 8114), (0.0696, 0.1793), d1_xticks, d1_xlab, d1_yticks, d1_ylab, "12px",
      [(d1_ckf_t, d1_ckf, dict(line_color=B_GOLD, line_width=1.2, line_dash="1 4", line_alpha=0.5)),
       (d1_daukf_t, d1_daukf, dict(line_color="#3cd0cf", line_width=1.2, line_dash="1 4", line_alpha=0.7)),
       (d1_stdekf_t, d1_stdekf, dict(line_color="#1a62d6", line_width=1.0, line_dash="1 5", line_alpha=0.4)),
       (d1_drop_t, d1_drop, dict(line_color=B_EKF, line_width=3, line_dash="8 6")),
       (d1_drop_t, d1_drop, dict(line_color=B_GREEN, line_width=3, line_dash="8 14")),
       (d1_drop_t, d1_drop, dict(line_color=B_PURP, line_width=3, line_dash="6 22")),
       (d1_ah_t, d1_ah, dict(line_color=C_ORANGE, line_width=2.4))])
arrows(pd_, [(55, 0.0514, 2173, 0.105)])
style_legend(pd_, "11px", 22, 13, 1, 8)

# each figure is wrapped in its own column so that frames are not forced into alignment
layout = column(row(column(pa), column(pb), spacing=0), row(column(pc), column(pd_), spacing=0), spacing=0)
open("out.html", "w").write(file_html(layout, INLINE))
